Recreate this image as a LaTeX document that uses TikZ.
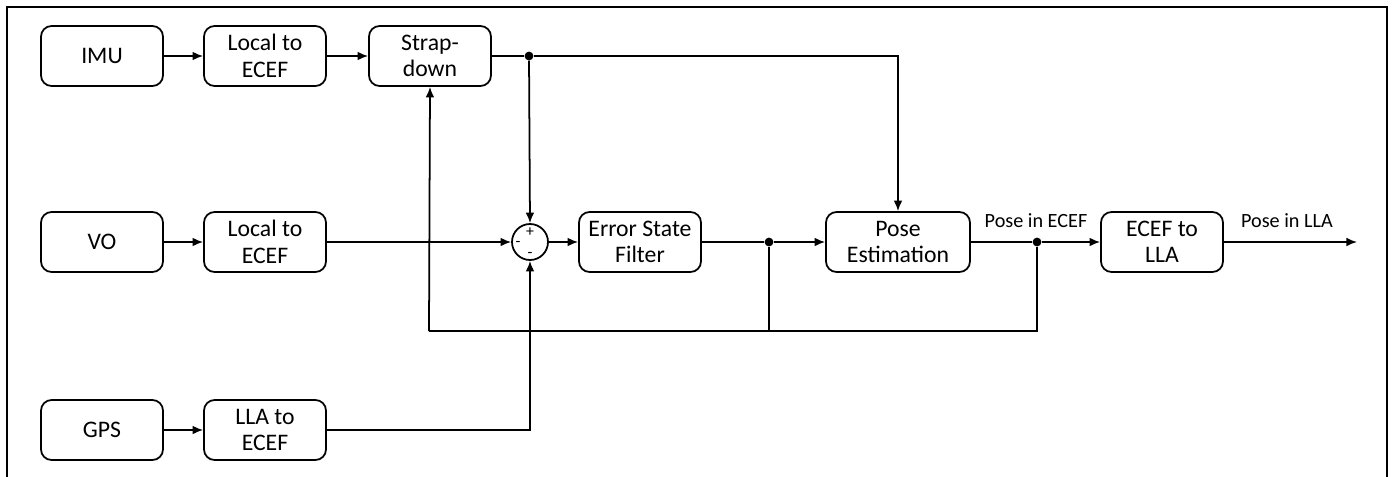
\documentclass[tikz,border=0pt]{standalone}
\usepackage{fontspec}
\setmainfont{Carlito}
\usetikzlibrary{positioning,calc,arrows.meta}

\tikzset{
  block/.style={draw, line width=1pt, rounded corners=6pt, minimum width=2.44cm,
    minimum height=1.2cm, align=center, inner sep=1pt,
    font=\fontsize{13.5}{15}\selectfont},
  wide block/.style={block, minimum width=2.88cm},
  sum/.style={draw, line width=1pt, circle, minimum size=0.72cm, inner sep=0pt},
  link/.style={line width=1pt, -{Latex[length=6pt,width=5pt]}},
  wire/.style={line width=1pt},
  dot/.style={circle, fill, inner sep=0pt, minimum size=5pt},
  sig label/.style={font=\fontsize{11.5}{13}\selectfont, inner sep=1pt},
  sign/.style={font=\fontsize{9}{9}\selectfont, inner sep=0pt},
}

\begin{document}
\begin{tikzpicture}[x=0.02cm, y=-0.02cm]
  \useasboundingbox (0,0) rectangle (1394,477);
  % outer frame (open at the bottom)
  \draw[line width=1pt] (7,477) -- (7,7) -- (1387,7) -- (1387,477);

  % sensor chains
  \node[block] (imu) at (102,56) {IMU};
  \node[block] (imuconv) at (265,56) {Local to\\ECEF};
  \node[block] (strapdown) at (430,56) {Strap-\\down};

  \node[block] (vo) at (102,242) {VO};
  \node[block] (voconv) at (265,242) {Local to\\ECEF};

  \node[block] (gps) at (102,430) {GPS};
  \node[block] (gpsconv) at (265,430) {LLA to\\ECEF};

  % filter chain
  \node[sum] (err) at (530,242) {};
  \node[sign] at ($(err.center)+(0,-10)$) {+};
  \node[sign] at ($(err.center)+(-12,2)$) {-};
  \node[sign] at ($(err.center)+(0,13)$) {-};
  \node[block] (esf) at (640,242) {Error State\\Filter};
  \node[wide block] (pose) at (898,242) {Pose\\Estimation};
  \node[block] (tolla) at (1162,242) {ECEF to\\LLA};
  \coordinate (out) at (1357,242);

  % junctions
  \node[dot] (j1) at (529,56) {};
  \node[dot] (j2) at (769,242) {};
  \node[dot] (j3) at (1037,242) {};
  \coordinate (fb) at (429,331);

  \draw[link] (imu) -- (imuconv);
  \draw[link] (imuconv) -- (strapdown);
  \draw[wire] (strapdown.east) -- (j1);
  \draw[link] (j1) -- (pose.north |- j1) -- (pose.north);
  \draw[link] (j1) -- (err.north);

  \draw[link] (vo) -- (voconv);
  \draw[link] (voconv) -- (err.west);
  \draw[link] (err.east) -- (esf.west);
  \draw[wire] (esf.east) -- (j2);
  \draw[link] (j2) -- (pose.west);
  \draw[wire] (pose.east) -- (j3);
  \draw[link] (j3) -- (tolla.west);
  \draw[link] (tolla.east) -- (out);

  \draw[link] (gps) -- (gpsconv);
  \draw[link] (gpsconv.east) -- (err.south |- gpsconv.east) -- (err.south);

  % feedback to the strapdown
  \draw[wire] (j3) -- (j3 |- fb) -- (fb);
  \draw[wire] (j2) -- (j2 |- fb);
  \draw[link] (fb) -- (strapdown.south);

  % signal names
  \node[sig label] at (1036,221) {Pose in ECEF};
  \node[sig label] at (1287,221) {Pose in LLA};
\end{tikzpicture}
\end{document}
